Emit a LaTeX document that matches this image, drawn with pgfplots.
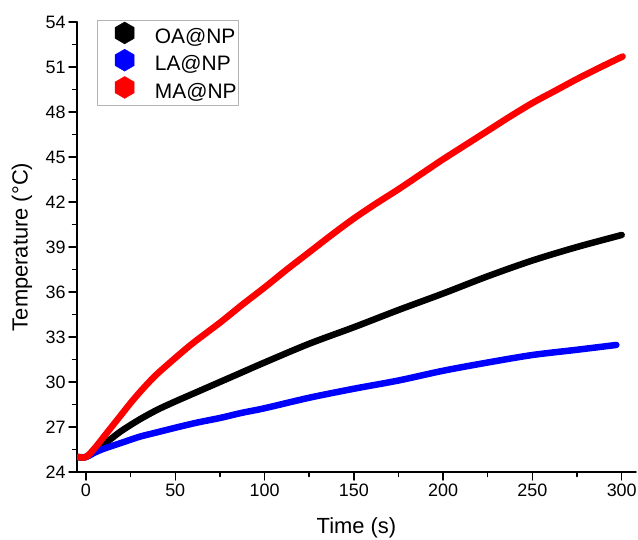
\documentclass[border=0pt]{standalone}
\usepackage{pgfplots}
\pgfplotsset{compat=1.18}
\usepackage{fontspec}
\setmainfont{Liberation Sans}
\pgfdeclareplotmark{hexagon*}{%
  \pgfpathmoveto{\pgfqpointpolar{90}{\pgfplotmarksize}}%
  \pgfpathlineto{\pgfqpointpolar{150}{\pgfplotmarksize}}%
  \pgfpathlineto{\pgfqpointpolar{210}{\pgfplotmarksize}}%
  \pgfpathlineto{\pgfqpointpolar{270}{\pgfplotmarksize}}%
  \pgfpathlineto{\pgfqpointpolar{330}{\pgfplotmarksize}}%
  \pgfpathlineto{\pgfqpointpolar{30}{\pgfplotmarksize}}%
  \pgfpathclose
  \pgfusepathqfillstroke}

\pgfplotstableread{
x y
-5 25.0
0 25.0
5 25.4
10 25.85
15 26.3
20 26.75
30 27.5
40 28.15
50 28.7
62.5 29.35
75 30.0
87.5 30.65
100 31.3
125 32.55
150 33.65
175 34.8
200 35.9
225 37.05
250 38.1
275 39.0
300 39.8
}\oadata

\pgfplotstableread{
x y
-5 25.0
0 25.0
5 25.3
10 25.55
20 25.95
30 26.35
40 26.65
50 26.95
62.5 27.3
75 27.6
87.5 27.95
100 28.25
125 28.95
150 29.55
175 30.1
200 30.75
225 31.3
250 31.8
275 32.15
297 32.47
}\ladata

\pgfplotstableread{
x y
-4.5 25.0
0 25.0
5 25.6
10 26.35
15 27.1
20 27.85
25 28.6
30 29.3
35 29.95
40 30.55
50 31.6
60 32.6
75 33.95
87.5 35.15
100 36.3
112.5 37.5
125 38.65
137.5 39.8
150 40.9
162.5 41.9
175 42.85
187.5 43.85
200 44.85
212.5 45.8
225 46.75
237.5 47.7
250 48.6
262.5 49.4
275 50.2
287.5 50.95
300.5 51.7
}\madata

\begin{document}
\begin{tikzpicture}
\begin{axis}[
  scale only axis, width=559bp, height=450bp,
  xmin=-5, xmax=308, ymin=24, ymax=54,
  axis x line*=bottom, axis y line*=left,
  axis line style={line width=1.6bp, black},
  xtick={0,50,...,300}, ytick={24,27,...,54},
  minor x tick num=1, minor y tick num=1,
  tick align=outside,
  major tick length=8bp, minor tick length=4.5bp,
  every tick/.style={black, line width=1.4bp},
  tick label style={font=\fontsize{18}{20}\selectfont},
  /pgf/number format/assume math mode=true,
  xlabel={Time (s)}, ylabel={Temperature (°C)},
  label style={font=\fontsize{22}{26}\selectfont},
  xlabel style={at={(axis description cs:0.5,0)}, anchor=center, yshift=-56bp},
  ylabel style={at={([xshift=-55bp]axis description cs:0,0.5)}, anchor=center},
  legend style={at={(axis description cs:0.0358,1.0044)}, anchor=north west,
    draw=gray!60, line width=0.8bp, inner sep=1.5bp, row sep=0pt,
    font=\fontsize{21}{25}\selectfont,
    nodes={inner sep=0pt, text height=16bp, text depth=5.5bp}},
  legend cell align=left,
  legend image code/.code={\path (0bp,0bp) (49.5bp,0bp);
    \draw[#1, line width=0.3bp, mark=hexagon*, mark size=11bp] plot[only marks] coordinates {(22.5bp,5.5bp)};},
  line cap=round, line join=round,
]
\addplot[black, line width=6.5bp, smooth] table[x=x,y=y] {\oadata};
\addlegendentry{OA@NP}
\addplot[blue, line width=6.5bp, smooth] table[x=x,y=y] {\ladata};
\addlegendentry{LA@NP}
\addplot[red, line width=6.5bp, smooth] table[x=x,y=y] {\madata};
\addlegendentry{MA@NP}
\coordinate (O) at (rel axis cs:0,0);
\coordinate (T) at (rel axis cs:1,1);
\end{axis}
\pgfresetboundingbox
\path ([shift={(-77bp,-68bp)}]O) rectangle ([shift={(2bp,22bp)}]T);
\end{tikzpicture}
\end{document}
